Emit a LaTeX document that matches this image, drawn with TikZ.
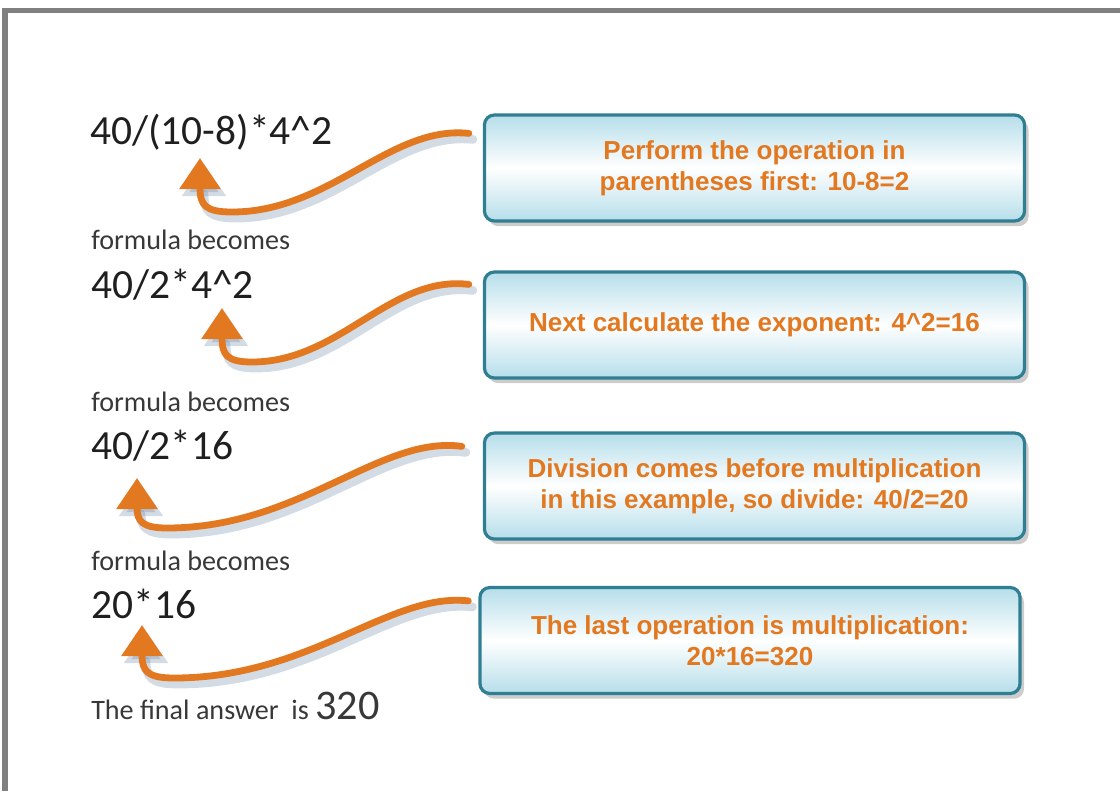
\documentclass[tikz,border=0pt]{standalone}
\usepackage{fontspec}
\setmainfont{Carlito}
\newfontfamily\boxfont{Liberation Sans}
\usetikzlibrary{arrows.meta,shadows,calc}

\definecolor{stepOrange}{RGB}{226,120,32}
\definecolor{boxTeal}{RGB}{48,126,146}
\definecolor{boxBlue}{RGB}{182,222,234}
\definecolor{frameGray}{RGB}{128,128,128}
\definecolor{shadeBlue}{RGB}{110,135,170}

\tikzset{
  formula/.style={anchor=base west, inner sep=0pt, font=\fontsize{29.5}{32}\selectfont, text=black!88},
  remark/.style={anchor=base west, inner sep=0pt, font=\fontsize{20}{24}\selectfont, text=black!78},
  opbox/.style={draw=boxTeal, line width=0.08cm, rounded corners=0.25cm,
    top color=boxBlue, bottom color=boxBlue, middle color=white,
    minimum width=13.5cm, minimum height=2.65cm, align=center, text=stepOrange,
    font=\boxfont\bfseries\fontsize{18.5}{22}\selectfont,
    drop shadow={shadow xshift=0.1cm, shadow yshift=-0.13cm, opacity=0.4}},
  stepline/.style={draw=stepOrange, line width=0.17cm, line cap=round,
    -{Triangle[width=1cm,length=0.78cm]}},
  stepshade/.style={draw=shadeBlue, opacity=0.3, line width=0.22cm, line cap=round,
    -{Triangle[width=1.05cm,length=0.8cm]}, transform canvas={shift={(4,6)}}}
}

\begin{document}
\begin{tikzpicture}[x=0.025cm, y=-0.025cm]

\useasboundingbox (0,0) rectangle (1120,791);

\draw[frameGray, line width=0.125cm] (5,791) -- (5,10) -- (1120,10);

\node[formula] (f1) at (90,144) {40/(10-8)*4\^{}2};

\node[remark] (l1) at (91,249) {formula becomes};

\node[formula] (f2) at (91,298) {40/2*4\^{}2};

\node[remark] (l2) at (91,411) {formula becomes};

\node[formula] (f3) at (91,459) {40/2*16};

\node[remark] (l3) at (91,570) {formula becomes};

\node[formula] (f4) at (91,618) {20*16};

\node[remark] (res) at (91,719) {The final answer\ \ is {\fontsize{30}{32}\selectfont 320}};

\node[opbox] (b1) at (754.5,168) {Perform the operation in\\parentheses first: 10-8=2};

\node[opbox] (b2) at (754.5,325) {Next calculate the exponent: 4\^{}2=16};

\node[opbox] (b3) at (754.5,486) {Division comes before multiplication\\in this example, so divide: 40/2=20};

\node[opbox] (b4) at (750,640.5) {The last operation is multiplication:\\20*16=320};

\coordinate (s1) at ($(b1.north west)+(-14,20)$);
\coordinate (s2) at ($(b2.north west)+(-14,14)$);
\coordinate (s3) at ($(b3.north west)+(-21,15)$);
\coordinate (s4) at ($(b4.north west)+(-10,15)$);

\coordinate (t1) at (200,158);
\coordinate (t2) at (222,308);
\coordinate (t3) at (137,478);
\coordinate (t4) at (142,625);

\draw[stepshade] (s1) .. controls (390,125) and (330,212) .. (232,212) .. controls (205,212) and (200,205) .. (t1);
\draw[stepline] (s1) .. controls (390,125) and (330,212) .. (232,212) .. controls (205,212) and (200,205) .. (t1);

\draw[stepshade] (s2) .. controls (390,275) and (340,362) .. (252,362) .. controls (227,362) and (222,355) .. (t2);
\draw[stepline] (s2) .. controls (390,275) and (340,362) .. (252,362) .. controls (227,362) and (222,355) .. (t2);

\draw[stepshade] (s3) .. controls (380,435) and (300,528) .. (167,528) .. controls (142,528) and (137,521) .. (t3);
\draw[stepline] (s3) .. controls (380,435) and (300,528) .. (167,528) .. controls (142,528) and (137,521) .. (t3);

\draw[stepshade] (s4) .. controls (390,592) and (310,678) .. (174,678) .. controls (147,678) and (142,671) .. (t4);
\draw[stepline] (s4) .. controls (390,592) and (310,678) .. (174,678) .. controls (147,678) and (142,671) .. (t4);

\end{tikzpicture}
\end{document}
